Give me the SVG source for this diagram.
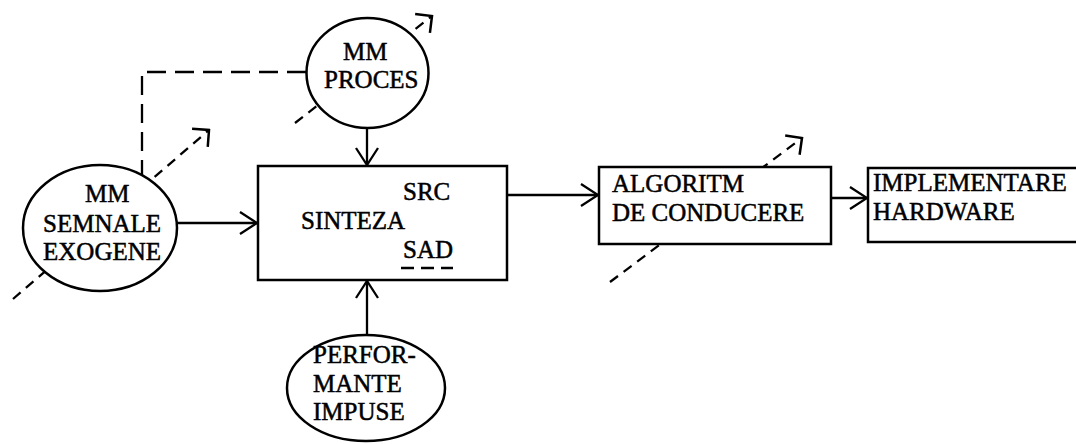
<svg xmlns="http://www.w3.org/2000/svg" width="1076" height="444" viewBox="0 0 1076 444">
<style>
text{font-family:"Liberation Serif","Times New Roman",serif;font-size:25px;fill:#000;stroke:#000;stroke-width:0.5}
.shape{fill:#fff;stroke:#000;stroke-width:2.5}
.line{fill:none;stroke:#000;stroke-width:2.3}
.dash{fill:none;stroke:#000;stroke-width:2.3;stroke-dasharray:10 7}
.ldash{fill:none;stroke:#000;stroke-width:2.3;stroke-dasharray:19 9}
</style>
<defs>
<marker id="arr" markerUnits="userSpaceOnUse" viewBox="-20 -13 22 26" markerWidth="22" markerHeight="26" refX="0" refY="0" orient="auto">
<path d="M-17,-11 L0,0 L-17,11" fill="none" stroke="#000" stroke-width="2.3"/>
</marker>
<marker id="darr" markerUnits="userSpaceOnUse" viewBox="-16 -14 18 28" markerWidth="18" markerHeight="28" refX="0" refY="0" orient="auto">
<path d="M-12,-12 L0,0 L-12,12" fill="none" stroke="#000" stroke-width="2.5"/>
</marker>
</defs>
<g id="connectors">
<path class="ldash" d="M306,72 L142,72 L142,176"/>
<path class="dash" d="M13,299 L209,130" marker-end="url(#darr)"/>
<path class="dash" d="M295,123 L432,16" marker-end="url(#darr)"/>
<path class="dash" d="M610,282 L802,138" marker-end="url(#darr)"/>
<path class="line" d="M367,128 L367,165" marker-end="url(#arr)"/>
<path class="line" d="M177,223 L257,223" marker-end="url(#arr)"/>
<path class="line" d="M367,335 L367,281" marker-end="url(#arr)"/>
<path class="line" d="M507,195 L598,195" marker-end="url(#arr)"/>
<path class="line" d="M831,198 L867,198" marker-end="url(#arr)"/>
</g>
<g id="mm-proces">
<ellipse class="shape" cx="367.5" cy="73" rx="61" ry="55"/>
<text x="343" y="60">MM</text>
<text x="324" y="88">PROCES</text>
</g>
<g id="mm-semnale">
<ellipse class="shape" cx="100" cy="228" rx="77" ry="63"/>
<text x="85" y="202">MM</text>
<text x="43" y="232">SEMNALE</text>
<text x="43" y="260">EXOGENE</text>
</g>
<g id="sinteza">
<rect class="shape" x="258" y="166" width="249" height="114"/>
<text x="403" y="200">SRC</text>
<text x="301" y="229">SINTEZA</text>
<text x="403" y="258">SAD</text>
<path d="M401,268 L453,268" fill="none" stroke="#000" stroke-width="2.3" stroke-dasharray="13 7"/>
</g>
<g id="performante">
<ellipse class="shape" cx="366" cy="388" rx="79" ry="53"/>
<text x="313" y="363">PERFOR-</text>
<text x="313" y="392">MANTE</text>
<text x="313" y="420">IMPUSE</text>
</g>
<g id="algoritm">
<rect class="shape" x="599" y="167" width="232" height="77"/>
<text x="612" y="192">ALGORITM</text>
<text x="612" y="221">DE CONDUCERE</text>
</g>
<g id="implementare">
<rect class="shape" x="868" y="168" width="220" height="74"/>
<text x="873" y="191">IMPLEMENTARE</text>
<text x="873" y="220">HARDWARE</text>
</g>
</svg>
